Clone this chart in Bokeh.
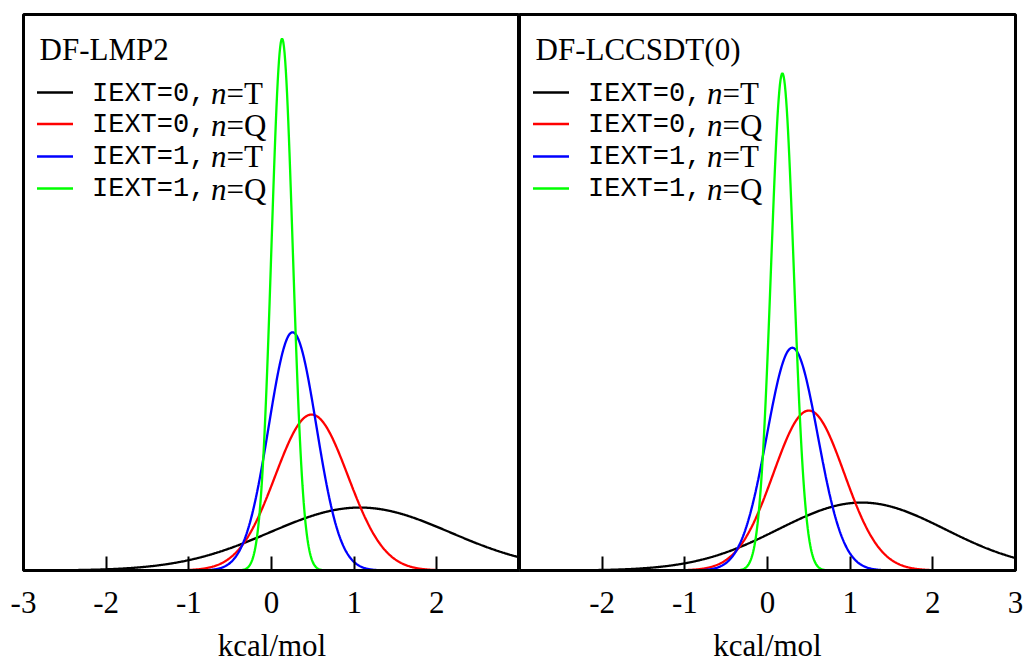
import numpy as np
from bokeh.plotting import figure
from bokeh.models import Range1d, FixedTicker, Label, Arrow
from bokeh.layouts import row, column
from bokeh.embed import file_html
from bokeh.resources import INLINE

# ---------------- data ----------------
panel_titles = ["DF-LMP2", "DF-LCCSDT(0)"]
x_title = "kcal/mol"
series_code = ["IEXT=0,", "IEXT=0,", "IEXT=1,", "IEXT=1,"]
series_basis = ["=T", "=Q", "=T", "=Q"]
series_colors = ["#000000", "#ff0000", "#0000ff", "#00ff00"]

# mean and standard deviation (kcal/mol) of each error distribution
lmp2_mean = [1.07, 0.485, 0.255, 0.128]
lmp2_sd = [1.09, 0.44, 0.288, 0.129]
lccsdt_mean = [1.14, 0.50, 0.30, 0.18]
lccsdt_sd = [1.01, 0.429, 0.308, 0.138]

left_ticks = [-3, -2, -1, 0, 1, 2]
right_ticks = [-2, -1, 0, 1, 2, 3]
x_lo, x_hi = -3.0, 3.0
y_hi = 3.233

SERIF = "Liberation Serif"
MONO = "Liberation Mono"
CORR = 10.5  # baseline correction for screen-unit labels


def make_panel(title, means, sds, ticks, width, b_left, b_right):
    p = figure(width=width, height=626,
               x_range=Range1d(x_lo, x_hi), y_range=Range1d(0, y_hi),
               output_backend="svg", toolbar_location=None,
               y_axis_location=None,
               min_border_left=b_left, min_border_right=b_right,
               min_border_top=14, min_border_bottom=56)
    p.grid.visible = False
    p.background_fill_color = "white"
    p.border_fill_color = "white"
    p.outline_line_color = "black"
    p.outline_line_width = 3

    xs = np.linspace(x_lo, x_hi, 801)
    for m, s, c in zip(means, sds, series_colors):
        ys = np.exp(-0.5 * ((xs - m) / s) ** 2) / (s * np.sqrt(2 * np.pi))
        p.line(xs, ys, line_color=c, line_width=2.3)

    ax = p.xaxis[0]
    ax.ticker = FixedTicker(ticks=ticks, minor_ticks=[])
    ax.major_label_overrides = {t: str(t) for t in ticks}
    ax.major_tick_in = 14
    ax.major_tick_out = 0
    ax.major_tick_line_width = 2
    ax.major_tick_line_color = "black"
    ax.minor_tick_line_color = None
    ax.axis_line_width = 3
    ax.axis_line_color = "black"
    ax.major_label_text_font = SERIF
    ax.major_label_text_font_size = "31px"
    ax.major_label_text_color = "black"
    ax.major_label_standoff = 21

    # frame 496 x 556 px; positions measured from frame bottom-left
    fh = 556
    p.add_layout(Label(x=16, y=fh - 45.5 + CORR, x_units="screen", y_units="screen",
                       text=title, text_font=SERIF, text_font_size="31px",
                       text_baseline="alphabetic", text_color="black"))
    row_base = [89.5, 121.2, 152.9, 185.0]
    line_y = [77.9, 109.5, 141.9, 173.9]
    for i in range(4):
        p.add_layout(Arrow(end=None, start=None,
                           x_start=13.5, y_start=fh - line_y[i],
                           x_end=49.5, y_end=fh - line_y[i],
                           start_units="screen", end_units="screen",
                           line_color=series_colors[i], line_width=2.5))
        p.add_layout(Label(x=68.5, y=fh - row_base[i] + CORR, x_units="screen", y_units="screen",
                           text=series_code[i], text_font=MONO, text_font_size="27px",
                           text_baseline="alphabetic", text_color="black"))
        p.add_layout(Label(x=187.5, y=fh - row_base[i] + CORR, x_units="screen", y_units="screen",
                           text="n", text_font=SERIF, text_font_size="31px",
                           text_font_style="italic",
                           text_baseline="alphabetic", text_color="black"))
        p.add_layout(Label(x=203, y=fh - row_base[i] + CORR, x_units="screen", y_units="screen",
                           text=series_basis[i], text_font=SERIF, text_font_size="31px",
                           text_baseline="alphabetic", text_color="black"))
    return p


p1 = make_panel(panel_titles[0], lmp2_mean, lmp2_sd, left_ticks, 519, 23, 0)
p2 = make_panel(panel_titles[1], lccsdt_mean, lccsdt_sd, right_ticks, 511, 0, 15)

# strip below the panels carrying the x-axis titles
q = figure(width=1030, height=40, x_range=Range1d(0, 1), y_range=Range1d(0, 1),
           output_backend="svg", toolbar_location=None,
           x_axis_location=None, y_axis_location=None,
           min_border_left=0, min_border_right=0, min_border_top=0, min_border_bottom=0)
q.grid.visible = False
q.outline_line_color = None
q.background_fill_color = "white"
q.border_fill_color = "white"
for cx in (271.5, 767.0):
    q.add_layout(Label(x=cx, y=10.5 + CORR, x_units="screen", y_units="screen",
                       text=x_title, text_font=SERIF, text_font_size="31px",
                       text_align="center", text_baseline="alphabetic",
                       text_color="black"))

layout = column(row(p1, p2), q)
open("out.html", "w").write(file_html(layout, INLINE))
